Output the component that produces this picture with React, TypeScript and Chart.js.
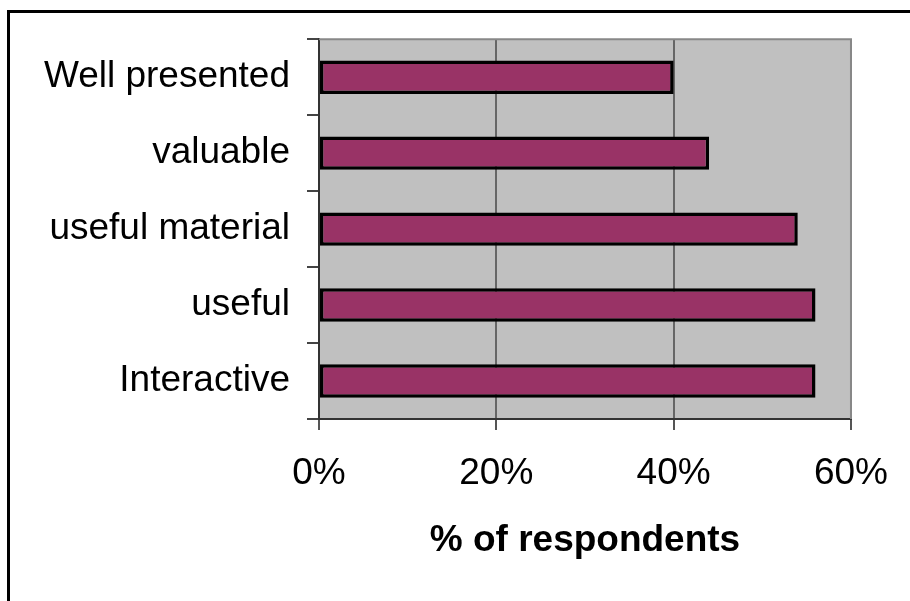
import React, { useEffect, useRef } from "react";
import { Chart, registerables } from "chart.js";

Chart.register(...registerables);

const categories = ["Well presented", "valuable", "useful material", "useful", "Interactive"];
const respondentsPct = [40, 44, 54, 56, 56];
const axisMin = 0;
const axisMax = 60;
const axisStep = 20;
const xTitle = "% of respondents";

const FONT = "'Liberation Sans', Arial, sans-serif";

const framePlugin = {
  id: "frameAndPlot",
  beforeDraw(chart: any) {
    const { ctx, chartArea } = chart;
    ctx.save();
    ctx.fillStyle = "#ffffff";
    ctx.fillRect(0, 0, chart.width, chart.height);
    ctx.fillStyle = "#C0C0C0";
    ctx.fillRect(chartArea.left, chartArea.top, chartArea.right - chartArea.left, chartArea.bottom - chartArea.top);
    ctx.restore();
  },
  beforeDatasetsDraw(chart: any) {
    const { ctx, chartArea } = chart;
    ctx.save();
    ctx.strokeStyle = "#888888";
    ctx.lineWidth = 2;
    ctx.beginPath();
    ctx.moveTo(chartArea.left, chartArea.top);
    ctx.lineTo(chartArea.right, chartArea.top);
    ctx.lineTo(chartArea.right, chartArea.bottom);
    ctx.stroke();
    ctx.restore();
  },
  afterDraw(chart: any) {
    const { ctx } = chart;
    ctx.save();
    ctx.fillStyle = "#000000";
    ctx.fillRect(7, 10, 3, chart.height - 10);
    ctx.fillRect(7, 10, chart.width - 7, 3);
    ctx.restore();
  },
};

export default function App() {
  const canvasRef = useRef<HTMLCanvasElement | null>(null);

  useEffect(() => {
    const canvas = canvasRef.current;
    if (!canvas) return;
    const chart = new Chart(canvas, {
      type: "bar",
      data: {
        labels: categories,
        datasets: [
          {
            data: respondentsPct,
            backgroundColor: "#993366",
            borderColor: "#000000",
            borderWidth: 3.5,
            borderSkipped: false,
            barPercentage: 0.44,
            categoryPercentage: 1,
          },
        ],
      },
      options: {
        indexAxis: "y",
        animation: false,
        responsive: false,
        devicePixelRatio: 1,
        layout: { padding: { left: 0, right: 58, top: 39, bottom: 32 } },
        plugins: {
          legend: { display: false },
          tooltip: { enabled: false },
        },
        scales: {
          x: {
            min: axisMin,
            max: axisMax,
            afterFit(scale: any) {
              scale.height = 150;
            },
            ticks: {
              stepSize: axisStep,
              padding: 22,
              color: "#000",
              font: { family: FONT, size: 37 },
              callback: (v: any) => v + "%",
            },
            grid: {
              color: (c: any) => (c.index === 3 ? "#888888" : "#666666"),
              lineWidth: 2,
              tickLength: 11,
              tickColor: "#555555",
            },
            border: { display: true, color: "#333333", width: 2 },
            title: {
              display: true,
              text: xTitle,
              color: "#000",
              font: { family: FONT, size: 37, weight: "bold" },
              padding: { top: 0, bottom: 6 },
            },
          },
          y: {
            afterFit(scale: any) {
              scale.width = 319;
            },
            ticks: {
              padding: 17,
              color: "#000",
              font: { family: FONT, size: 37 },
            },
            grid: {
              drawOnChartArea: false,
              drawTicks: true,
              tickLength: 12,
              color: "#444444",
              lineWidth: 2,
            },
            border: { display: true, color: "#333333", width: 2 },
          },
        },
      },
      plugins: [framePlugin],
    });
    return () => chart.destroy();
  }, []);

  return (
    <div style={{ position: "fixed", left: 0, top: 0, width: 910, height: 601 }}>
      <canvas ref={canvasRef} width={910} height={601} style={{ display: "block" }} />
    </div>
  );
}
